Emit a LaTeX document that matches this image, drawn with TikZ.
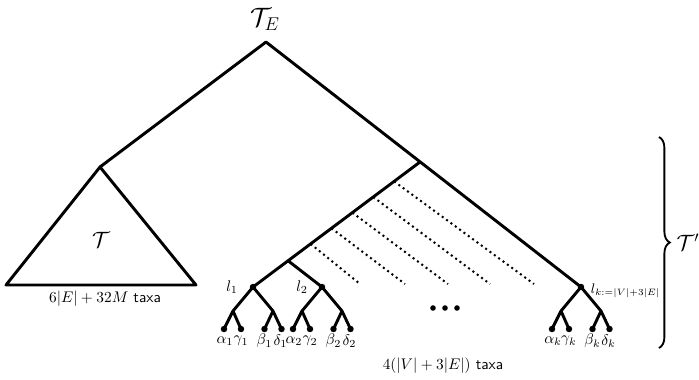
\documentclass[tikz,border=0pt]{standalone}
\usetikzlibrary{calc,decorations.pathreplacing}
\begin{document}
\begin{tikzpicture}[x=0.65pt,y=-0.65pt,
  edge/.style={line width=1.9pt, line cap=round, line join=round},
  dotline/.style={line width=1.3pt, dash pattern=on 1.3pt off 2.2pt},
  leaf/.style={circle, fill, inner sep=0pt, minimum size=4.2pt},
  bigdot/.style={circle, fill, inner sep=0pt, minimum size=3.6pt},
  lbl/.style={inner sep=1pt}
]
\useasboundingbox (0,0) rectangle (699,379);

% main skeleton
\coordinate (root) at (266,42);
\coordinate (tt) at (100,167);
\coordinate (tl) at (6,285);
\coordinate (tr) at (196,285);
\coordinate (j) at (420,162);

% cherries
\foreach \n/\x in {1/253, 2/322, k/581} {
  \node[leaf] (l\n) at (\x,287) {};
  \coordinate (p\n) at (\x-20,311);
  \coordinate (q\n) at (\x+20,311);
  \node[leaf] (a\n) at (\x-29,329) {};
  \node[leaf] (g\n) at (\x-12,329) {};
  \node[leaf] (b\n) at (\x+11.5,329) {};
  \node[leaf] (d\n) at (\x+28.5,329) {};
  \draw[edge] (l\n.center) -- (p\n) -- (a\n.center);
  \draw[edge] (p\n) -- (g\n.center);
  \draw[edge] (l\n.center) -- (q\n) -- (d\n.center);
  \draw[edge] (q\n) -- (b\n.center);
  \node[lbl] at ($(a\n)+(1,12)$) {$\alpha_\n$};
  \node[lbl] at ($(g\n)+(0,12)$) {$\gamma_\n$};
  \node[lbl] at ($(b\n)+(0,12)$) {$\beta_\n$};
  \node[lbl] at ($(d\n)+(-1,12)$) {$\delta_\n$};
}

\draw[edge] (tt) -- (root) -- (lk.center);
\draw[edge] (tt) -- (tl) -- (tr) -- cycle;
\draw[edge] (j) -- (l1.center);
\coordinate (s2) at ($(j)!0.79!(l1)$);
\draw[edge] (s2) -- (l2.center);

% dotted lines
\foreach \f/\e [count=\i] in {0.655/360, 0.53/405, 0.405/448, 0.28/490, 0.155/534} {
  \coordinate (s\i) at ($(j)!\f!(l1)$);
  \coordinate (e\i) at (\e,284);
  \draw[dotline] (s\i) -- (e\i);
}

% ellipsis
\node[bigdot] (el1) at (433,308) {};
\node[bigdot] (el2) at (445,308) {};
\node[bigdot] (el3) at (457,308) {};

% labels
\node[lbl] (TE) at (265,19) {\LARGE $\mathcal{T}_E$};
\node[lbl] (T) at (101,240) {\Large $\mathcal{T}$};
\node[lbl] at (105,299) {$6|E|+32M$ \textsf{taxa}};
\node[lbl] at (443,366) {$4(|V|+3|E|)$ \textsf{taxa}};
\node[lbl] at (232,287) {$l_1$};
\node[lbl] at (302,287) {$l_2$};
\node[lbl, anchor=west, font=\small] at (589,291) {$l_{k:=|V|+3|E|}$};

% brace
\draw[decorate, decoration={brace, amplitude=7pt}, line width=1.2pt] (659,137) -- (659,348);
\node[lbl] (Tp) at (688,242) {\Large $\mathcal{T}'$};
\end{tikzpicture}
\end{document}
